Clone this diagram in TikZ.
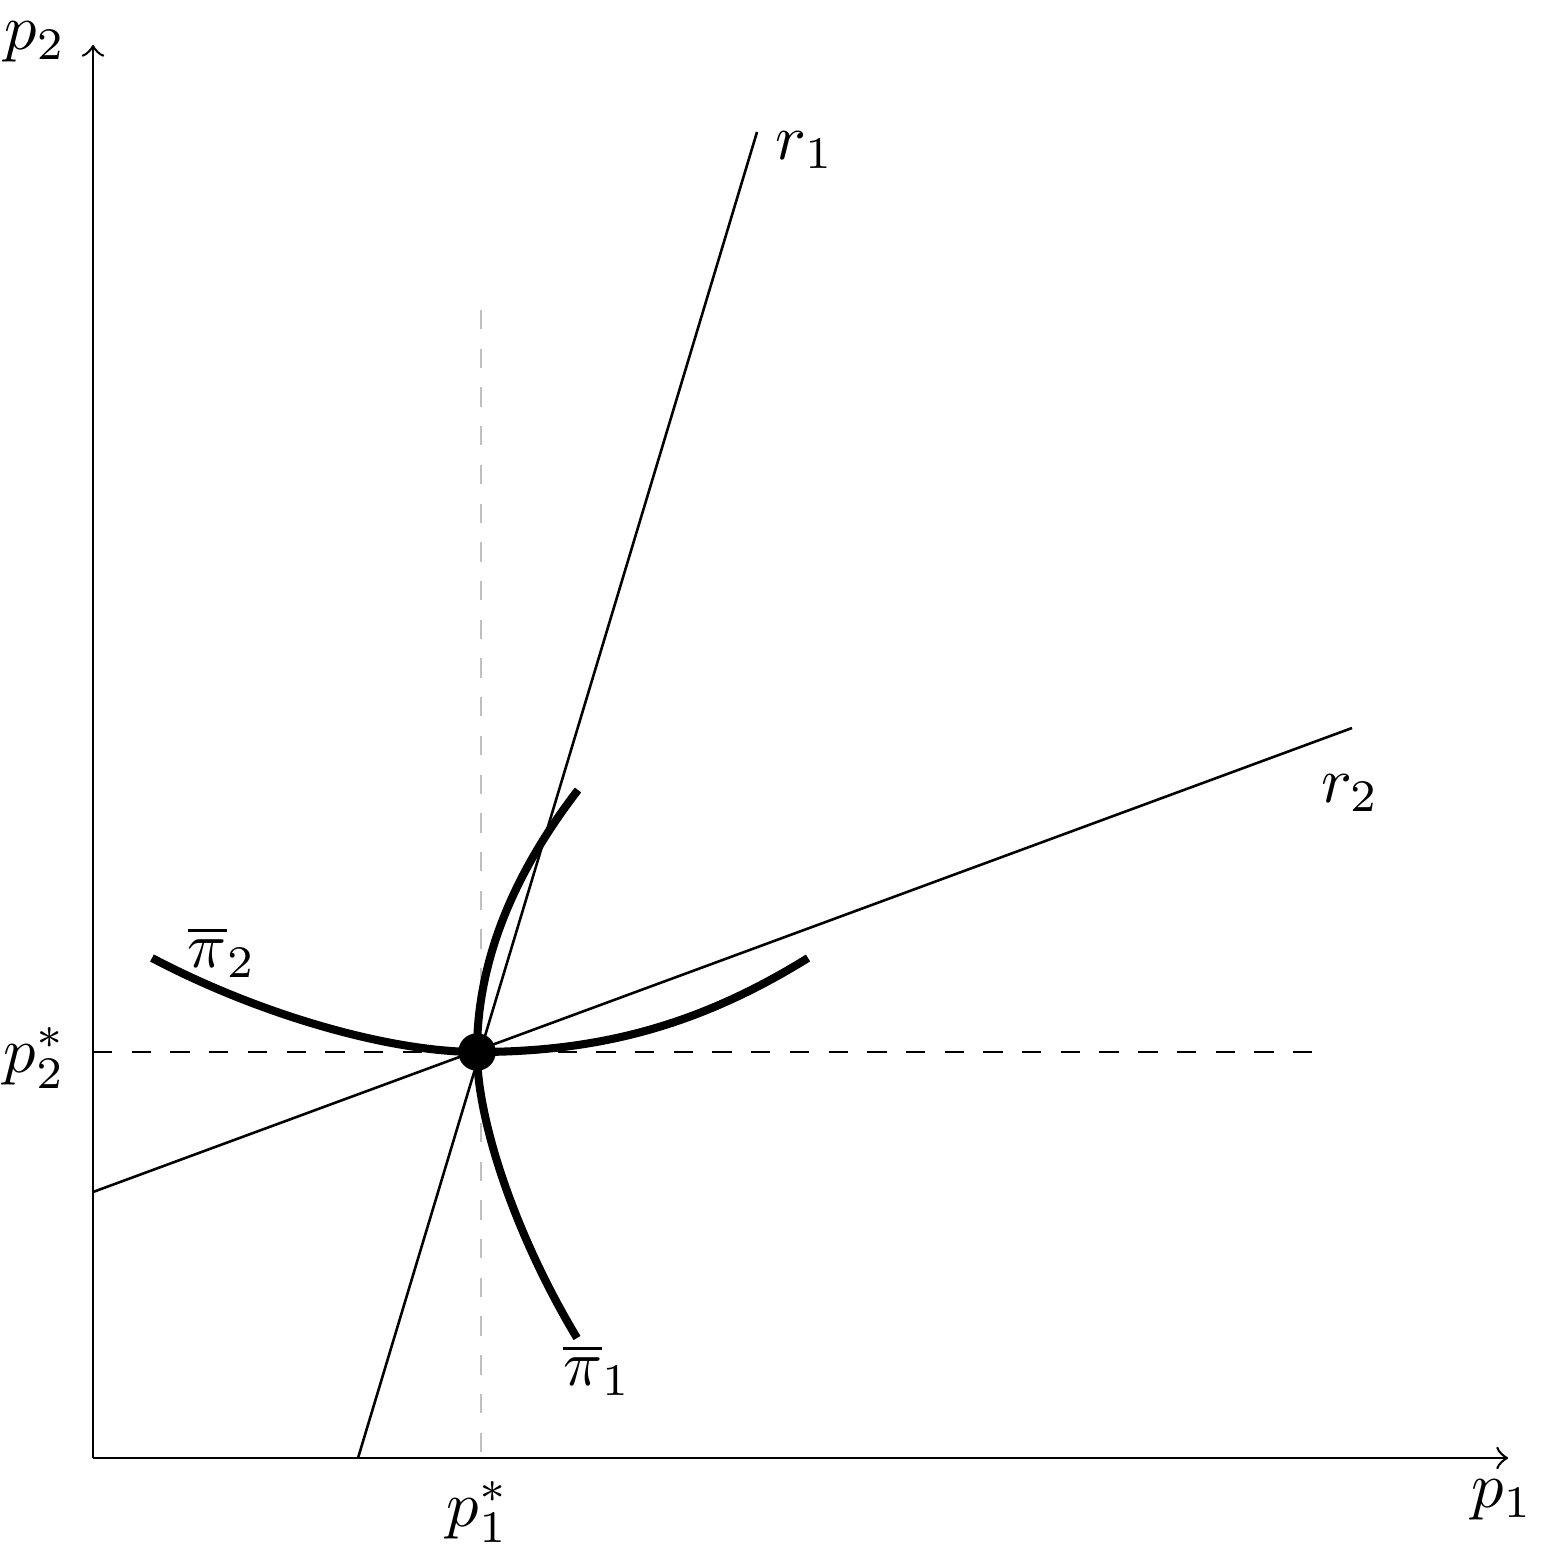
\documentclass[tikz,border=0pt]{standalone}
\begin{document}
\begin{tikzpicture}[x=0.155pt,y=-0.155pt,
  thin line/.style={line width=0.4pt},
  thick curve/.style={line width=1.25pt},
  lbl/.style={inner sep=0pt}]
\useasboundingbox (0,0) rectangle (1550,1560);
% coordinates
\coordinate (O) at (93,1458);
\coordinate (X) at (1508,1458);
\coordinate (Y) at (93,45);
\coordinate (E) at (477,1052);
\coordinate (vtop) at (481,310);
\coordinate (vbot) at (481,1458);
\coordinate (hl) at (93,1052);
\coordinate (hr) at (1325,1052);
\coordinate (r1a) at (358,1458);
\coordinate (r1b) at (757,132);
\coordinate (r2a) at (93,1192);
\coordinate (r2b) at (1352,728);
% guides
\draw[gray!50,thin line,dashed] (vtop) -- (vbot);
\draw[thin line,dashed] (hl) -- (hr);
% axes
\draw[thin line,->] (O) -- (X);
\draw[thin line,->] (O) -- (Y);
% reaction lines
\draw[thin line] (r1a) -- (r1b);
\draw[thin line] (r2a) -- (r2b);
% iso-profit curves
\draw[thick curve] (152,958) .. controls (260,1015) and (390,1052) .. (E)
  .. controls (600,1052) and (700,1025) .. (808,958);
\draw[thick curve] (578,790) .. controls (510.7,877.3) and (477,964.7) .. (E)
  .. controls (477,1120) and (515,1235) .. (577,1338);
% equilibrium
\fill (E) circle (2.9pt);
% labels
\node[lbl] (lp2) at (35,42) {$p_2$};
\node[lbl] (lp1) at (1502,1500) {$p_1$};
\node[lbl] (lp1s) at (478,1512) {$p_1^*$};
\node[lbl] (lp2s) at (35,1058) {$p_2^*$};
\node[lbl] (lr1) at (805,150) {$r_1$};
\node[lbl] (lr2) at (1350,793) {$r_2$};
\node[lbl] (lpi2) at (222,952) {$\overline{\pi}_2$};
\node[lbl] (lpi1) at (597,1370) {$\overline{\pi}_1$};
\end{tikzpicture}
\end{document}
